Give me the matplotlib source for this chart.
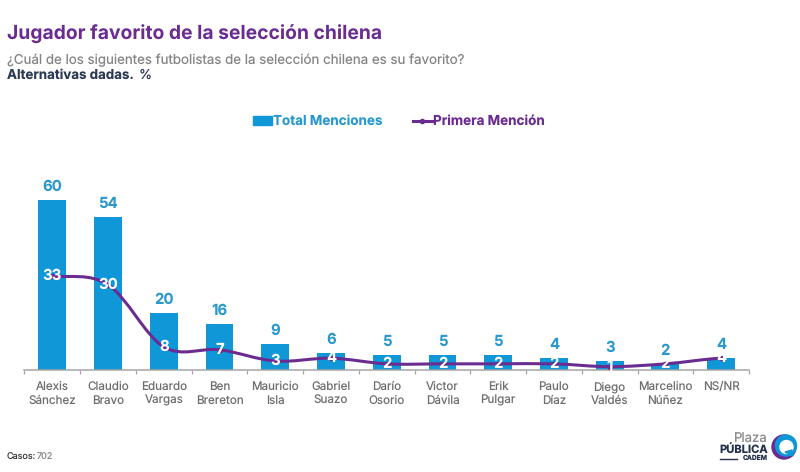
import matplotlib
matplotlib.use('Agg')
import matplotlib.pyplot as plt
from matplotlib.lines import Line2D
from matplotlib.patches import Circle, PathPatch, Polygon, Rectangle
from matplotlib.path import Path

plt.rcParams['font.family'] = ['Inter', 'DejaVu Sans']
plt.rcParams['text.hinting'] = 'none'

jugadores = ['Alexis\nSánchez', 'Claudio\nBravo', 'Eduardo\nVargas', 'Ben\nBrereton',
             'Mauricio\nIsla', 'Gabriel\nSuazo', 'Darío\nOsorio', 'Victor\nDávila',
             'Erik\nPulgar', 'Paulo\nDíaz', 'Diego\nValdés', 'Marcelino\nNúñez', 'NS/NR\n']
total = [60, 54, 20, 16, 9, 6, 5, 5, 5, 4, 3, 2, 4]
primera = [33, 30, 8, 7, 3, 4, 2, 2, 2, 2, 1, 2, 4]

AZUL = '#0f97d8'
AZUL_TXT = '#2a98cc'
MORADO = '#6a2c91'


def curva(xs, ys):
    # linea suavizada tipo excel, bezier entre los puntos
    n = len(xs)
    verts = [(xs[0], ys[0])]
    codes = [Path.MOVETO]
    for i in range(n - 1):
        m0 = (ys[min(i + 1, n - 1)] - ys[max(i - 1, 0)]) / 2
        m1 = (ys[min(i + 2, n - 1)] - ys[i]) / 2
        verts += [(xs[i] + 1 / 3, ys[i] + m0 / 3),
                  (xs[i + 1] - 1 / 3, ys[i + 1] - m1 / 3),
                  (xs[i + 1], ys[i + 1])]
        codes += [Path.CURVE4, Path.CURVE4, Path.CURVE4]
    return Path(verts, codes)


fig = plt.figure(figsize=(8, 4.72), dpi=100)
base = (472 - 369.5) / 472
alto = 66 * 2.825 / 472
ax = fig.add_axes([24.5 / 800, base, (749 - 24.5) / 800, alto])

x = list(range(len(jugadores)))
barras = ax.bar(x, total, width=0.5, color=AZUL, zorder=2)
ax.add_patch(PathPatch(curva(x, primera), fill=False, edgecolor=MORADO, lw=2.2, zorder=3))
ax.plot(x, primera, ls='none', marker='o', ms=3, color=MORADO, zorder=3)

for i in x:
    ax.annotate(str(total[i]), (i, total[i]), xytext=(0, 9.5), textcoords='offset points',
                ha='center', va='center', color=AZUL_TXT, fontsize=10.8, fontweight='bold', zorder=5)
    ax.text(i, primera[i], str(primera[i]), ha='center', va='center', color='white',
            fontsize=10.8, fontweight='bold', zorder=5)

ax.set_xlim(-0.5, 12.5)
ax.set_ylim(0, 66)
ax.set_yticks([])
ax.set_xticks(x)
ax.set_xticklabels(jugadores, fontsize=8.4, color='#6f6f6f', linespacing=1.3)
ax.set_xticks([i - 0.5 for i in range(14)], minor=True)
ax.tick_params(axis='x', which='major', length=0, pad=8.5)
ax.tick_params(axis='x', which='minor', length=3, color='#a6a6a6', width=0.9)
for s in ['top', 'left', 'right']:
    ax.spines[s].set_visible(False)
ax.spines['bottom'].set_color('#a6a6a6')
ax.spines['bottom'].set_linewidth(1.1)

linea_ley = Line2D([], [], color=MORADO, lw=2.2, marker='o', ms=3)
barras_ley = Rectangle((0, 0), 1, 1, color=AZUL)
ley = fig.legend([barras_ley, linea_ley], ['Total Menciones', 'Primera Mención'], ncol=2,
                 loc='center left', bbox_to_anchor=(253 / 800, 1 - 121.5 / 472), frameon=False,
                 borderpad=0, borderaxespad=0, handlelength=1.4, handleheight=0.6, handletextpad=0.1,
                 columnspacing=2.25, prop={'size': 9.7, 'weight': 'bold'},
                 labelcolor=[AZUL_TXT, MORADO])

fig.text(7 / 800, 1 - 34.5 / 472, 'Jugador favorito de la selección chilena', color=MORADO,
         fontsize=13.9, fontweight='bold', va='center')
fig.text(7 / 800, 1 - 60 / 472, '¿Cuál de los siguientes futbolistas de la selección chilena es su favorito?',
         color='#858585', fontsize=9.6, va='center')
fig.text(7 / 800, 1 - 75 / 472, 'Alternativas dadas.', color='#2b3a52', fontsize=9.6,
         fontweight='bold', va='center')
fig.text(139 / 800, 1 - 75 / 472, '%', color='#2b3a52', fontsize=9.6, va='center')

fig.text(7 / 800, 1 - 457 / 472, 'Casos:', color='#3c3c3c', fontsize=6.5, va='center')
fig.text(37 / 800, 1 - 457 / 472, '702', color='#8a8a8a', fontsize=6.5, va='center')

# logo, en pixeles
lg = fig.add_axes([0, 0, 1, 1], zorder=10)
lg.set_xlim(0, 800)
lg.set_ylim(472, 0)
lg.axis('off')
lg.text(768, 439, 'Plaza', color='#8a8a8a', fontsize=9.5, ha='right', va='center')
lg.text(768, 449.5, 'PÚBLICA', color='#24314f', fontsize=8, fontweight='bold', ha='right', va='center')
lg.text(768, 458.5, 'CADEM', color='#24314f', fontsize=4.8, fontweight='bold', ha='right', va='center')
lg.plot([720, 737], [459, 459], color='#24314f', lw=1)
lg.add_patch(Circle((784, 447), 12, color=MORADO))
lg.add_patch(Circle((786, 445.5), 10.5, color=AZUL))
lg.add_patch(Circle((786.5, 447), 6.5, color='white'))
lg.add_patch(Polygon([(785, 452), (792, 450), (793, 456)], color=AZUL))

fig.savefig('out.png', dpi=100)
